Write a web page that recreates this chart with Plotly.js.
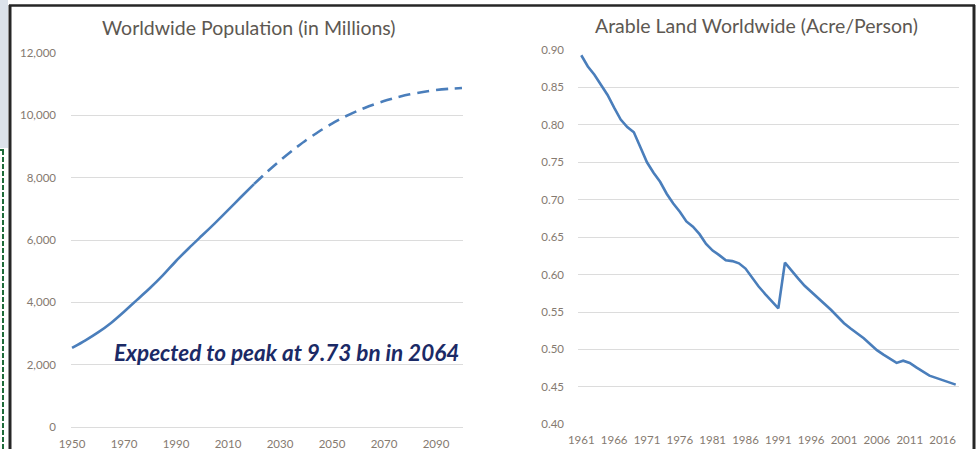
<!DOCTYPE html>
<html>
<head>
<meta charset="utf-8">
<script src="https://cdn.plot.ly/plotly-3.0.1.min.js"></script>
<style>
html,body{margin:0;padding:0;background:#fff;}
#chart{width:976px;height:449px;}
</style>
</head>
<body>
<div id="chart"></div>
<script>
// ---- Data: Worldwide population (millions) ----
const popYearsHist = [1950,1955,1960,1965,1970,1975,1980,1985,1990,1995,2000,2005,2010,2015,2020];
const popHist      = [2536,2773,3035,3340,3700,4079,4458,4871,5327,5744,6143,6542,6957,7380,7795];
const popYearsProj = [2020,2025,2030,2035,2040,2045,2050,2055,2060,2065,2070,2075,2080,2085,2090,2095,2100];
const popProj      = [7795,8184,8548,8888,9199,9482,9735,9958,10152,10318,10459,10577,10674,10750,10810,10852,10875];
const popTickYears = [1950,1970,1990,2010,2030,2050,2070,2090];

// ---- Data: Arable land worldwide (acre/person) ----
const landYears = [1961,1962,1963,1964,1965,1966,1967,1968,1969,1970,1971,1972,1973,1974,1975,1976,1977,1978,1979,1980,
  1981,1982,1983,1984,1985,1986,1987,1988,1989,1990,1991,1992,1993,1994,1995,1996,1997,1998,1999,2000,
  2001,2002,2003,2004,2005,2006,2007,2008,2009,2010,2011,2012,2013,2014,2015,2016,2017,2018];
const landValues = [0.893,0.878,0.867,0.854,0.840,0.823,0.807,0.797,0.790,0.770,0.750,0.736,0.724,0.708,0.695,0.684,0.671,0.664,0.654,0.641,
  0.632,0.626,0.619,0.618,0.615,0.608,0.596,0.584,0.574,0.564,0.555,0.616,0.605,0.595,0.585,0.577,0.570,0.562,0.553,0.544,
  0.535,0.528,0.522,0.515,0.507,0.499,0.493,0.487,0.482,0.485,0.482,0.476,0.470,0.465,0.462,0.459,0.457,0.453];
const landTickYears = [1961,1966,1971,1976,1981,1986,1991,1996,2001,2006,2011,2016];

const titleLeft = "Worldwide Population (in Millions)";
const titleRight = "Arable Land Worldwide (Acre/Person)";
const noteText = "Expected to peak at 9.73 bn in 2064";

// ---- Layout helpers (pixel -> paper) ----
const W = 976, H = 449;
const px = v => v / W;
const py = v => 1 - v / H;

const lineColor = '#4a7ebb';
const tickFont = {family: 'Lato, "Open Sans", sans-serif', size: 11.5, color: '#857a70'};
const titleFont = {family: 'Lato, "Open Sans", sans-serif', size: 19.5, color: '#5d5852'};

const traces = [
  {x: popYearsHist, y: popHist, type: 'scatter', mode: 'lines', xaxis: 'x', yaxis: 'y',
   line: {color: lineColor, width: 2.6, shape: 'spline', smoothing: 0.6}, hoverinfo: 'skip'},
  {x: popYearsProj, y: popProj, type: 'scatter', mode: 'lines', xaxis: 'x', yaxis: 'y',
   line: {color: lineColor, width: 2.6, dash: '12px,7px', shape: 'spline', smoothing: 0.6}, hoverinfo: 'skip'},
  {x: landYears, y: landValues, type: 'scatter', mode: 'lines', xaxis: 'x2', yaxis: 'y2',
   line: {color: lineColor, width: 2.6}, hoverinfo: 'skip'}
];

const layout = {
  width: W, height: H,
  margin: {l: 0, r: 0, t: 0, b: 0},
  paper_bgcolor: '#ffffff', plot_bgcolor: 'rgba(0,0,0,0)',
  showlegend: false,
  xaxis: {domain: [px(71), px(463)], range: [1949.6, 2100.4], tickvals: popTickYears,
          showgrid: false, zeroline: false, showline: false, ticks: '', ticklabelstandoff: 8,
          tickfont: tickFont, anchor: 'y', fixedrange: true},
  yaxis: {domain: [py(427), py(53)], range: [0, 12000], dtick: 2000, tickformat: ',d',
          showgrid: true, gridcolor: '#dcdcdc', gridwidth: 1, zeroline: true, zerolinecolor: '#dcdcdc',
          zerolinewidth: 1, showline: false, ticks: '', ticklabelstandoff: 14,
          tickfont: tickFont, anchor: 'x', fixedrange: true},
  xaxis2: {domain: [px(578), px(959)], range: [1960.5, 2018.5], tickvals: landTickYears,
          showgrid: false, zeroline: false, showline: false, ticks: '', ticklabelstandoff: 7,
          tickfont: tickFont, anchor: 'y2', fixedrange: true},
  yaxis2: {domain: [py(424.3), py(50)], range: [0.40, 0.90], dtick: 0.05, tickformat: '.2f',
          showgrid: true, gridcolor: '#dcdcdc', gridwidth: 1, zeroline: false, showline: false,
          ticks: '', ticklabelstandoff: 13, tickfont: tickFont, anchor: 'x2', fixedrange: true},
  annotations: [
    {text: titleLeft, xref: 'paper', yref: 'paper', x: px(249), y: py(27), xanchor: 'center', yanchor: 'middle',
     showarrow: false, font: titleFont},
    {text: titleRight, xref: 'paper', yref: 'paper', x: px(756), y: py(25), xanchor: 'center', yanchor: 'middle',
     showarrow: false, font: titleFont},
    {text: '<b><i>' + noteText + '</i></b>', xref: 'paper', yref: 'paper', x: px(461), y: py(352),
     xanchor: 'right', yanchor: 'middle', showarrow: false,
     font: {family: 'Lato, "Open Sans", sans-serif', size: 22.5, color: '#1b2a66'}}
  ],
  shapes: [
    // left grey strip
    {type: 'rect', xref: 'paper', yref: 'paper', x0: 0, x1: px(8), y0: py(148), y1: 1,
     fillcolor: '#dbe2ea', line: {width: 0}, layer: 'below'},
    // green dashed border
    {type: 'line', xref: 'paper', yref: 'paper', x0: px(3), x1: px(3), y0: py(150), y1: 0,
     line: {color: '#1e6b3a', width: 2, dash: '5px,2px'}},
    {type: 'line', xref: 'paper', yref: 'paper', x0: 0, x1: px(4), y0: py(150), y1: py(150),
     line: {color: '#1e6b3a', width: 2}},
    // black frame
    {type: 'line', xref: 'paper', yref: 'paper', x0: px(10), x1: px(10), y0: py(5), y1: 0,
     line: {color: '#262626', width: 3}},
    {type: 'line', xref: 'paper', yref: 'paper', x0: px(9), x1: px(975), y0: py(5.5), y1: py(5.5),
     line: {color: '#262626', width: 2.5}},
    {type: 'line', xref: 'paper', yref: 'paper', x0: px(974), x1: px(974), y0: py(5), y1: 0,
     line: {color: '#262626', width: 3}}
  ]
};

Plotly.newPlot('chart', traces, layout, {staticPlot: true, displayModeBar: false});
</script>
</body>
</html>
